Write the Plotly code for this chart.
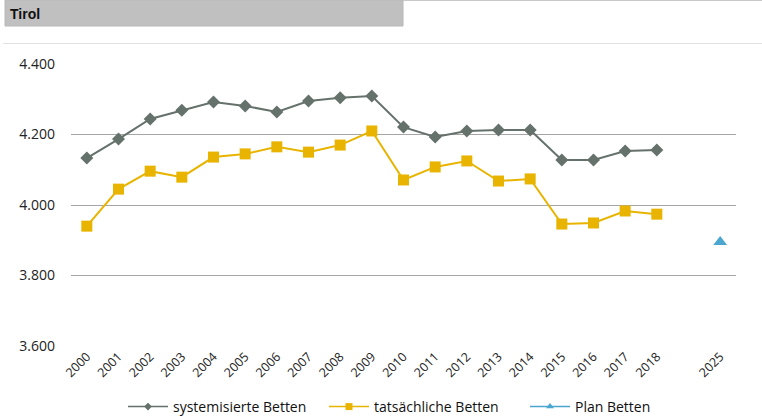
import plotly.graph_objects as go

# Data
years = [str(y) for y in range(2000, 2019)]
categories = years + [" ", "2025"]

systemisiert = [4133, 4187, 4244, 4269, 4292, 4281, 4264, 4295, 4304, 4309,
                4221, 4193, 4210, 4213, 4213, 4128, 4128, 4153, 4156]
tatsaechlich = [3940, 4045, 4096, 4079, 4136, 4145, 4165, 4150, 4170, 4210,
                4071, 4108, 4125, 4068, 4074, 3946, 3949, 3983, 3974]
plan_years = ["2025"]
plan = [3895]

y_ticks = [3600, 3800, 4000, 4200, 4400]
y_labels = ["3.600", "3.800", "4.000", "4.200", "4.400"]

series = [
    ("systemisierte Betten", years, systemisiert, "#65716b", "diamond", 10, 6),
    ("tatsächliche Betten", years, tatsaechlich, "#e8b400", "square", 11, 7),
    ("Plan Betten", plan_years, plan, "#4ba6d0", "triangle-up", 12, 7),
]

W, H = 762, 417
L, R, T, B = 71, 26, 64, 71
pw, ph = W - L - R, H - T - B

def px(x):
    return (x - L) / pw

def py(y):
    return (H - B - y) / ph

fig = go.Figure()
for name, xs, ys, color, symbol, size, legsize in series:
    fig.add_trace(go.Scatter(x=xs, y=ys, mode="lines+markers", name=name,
                             showlegend=False, legendgroup=name,
                             line=dict(color=color, width=2),
                             marker=dict(symbol=symbol, size=size, color=color)))
    # legend-only entry with the small markers of the original
    fig.add_trace(go.Scatter(x=[None], y=[None], mode="lines+markers", name=name,
                             legendgroup=name,
                             line=dict(color=color, width=1.5),
                             marker=dict(symbol=symbol, size=legsize, color=color)))

font = "Open Sans, Lato, sans-serif"

fig.update_layout(
    width=W, height=H,
    margin=dict(l=L, r=R, t=T, b=B, autoexpand=False),
    paper_bgcolor="white", plot_bgcolor="white",
    font=dict(family=font, size=14, color="#222"),
    showlegend=True,
    legend=dict(orientation="h", x=123 / W, xanchor="left", xref="container",
                y=(H - 407) / H, yanchor="middle", yref="container",
                font=dict(size=14, color="#111"), itemwidth=40,
                entrywidth=146),
    xaxis=dict(type="category", categoryorder="array", categoryarray=categories,
               tickangle=-45, tickfont=dict(size=12.5), showgrid=False,
               showline=False, ticks="", range=[-0.5, len(categories) - 0.5]),
    yaxis=dict(range=[3600, 4400], tickvals=y_ticks, ticktext=y_labels,
               showgrid=True, gridcolor="#a6a6a6", gridwidth=1, zeroline=False,
               showline=False, ticks="", ticklabelstandoff=15,
               tickfont=dict(size=14)),
    shapes=[
        dict(type="rect", xref="paper", yref="paper", x0=px(5), x1=px(403),
             y0=py(26), y1=py(0), fillcolor="#c0c0c0",
             line=dict(color="#b8b8b8", width=1), layer="below"),
        dict(type="line", xref="paper", yref="paper", x0=px(403), x1=px(762),
             y0=py(0.5), y1=py(0.5), line=dict(color="#c8c8c8", width=1)),
        dict(type="line", xref="paper", yref="paper", x0=px(3), x1=px(762),
             y0=py(43.5), y1=py(43.5), line=dict(color="#e2e2e2", width=1)),
    ],
    annotations=[
        dict(text="<b>Tirol</b>", xref="paper", yref="paper", x=px(8), y=py(14),
             xanchor="left", yanchor="middle", showarrow=False,
             font=dict(family="Liberation Sans, Arial, sans-serif", size=14, color="#111")),
    ],
)

fig.write_html("out.html", config={"displayModeBar": False},
               post_script="document.body.style.margin='0';")
